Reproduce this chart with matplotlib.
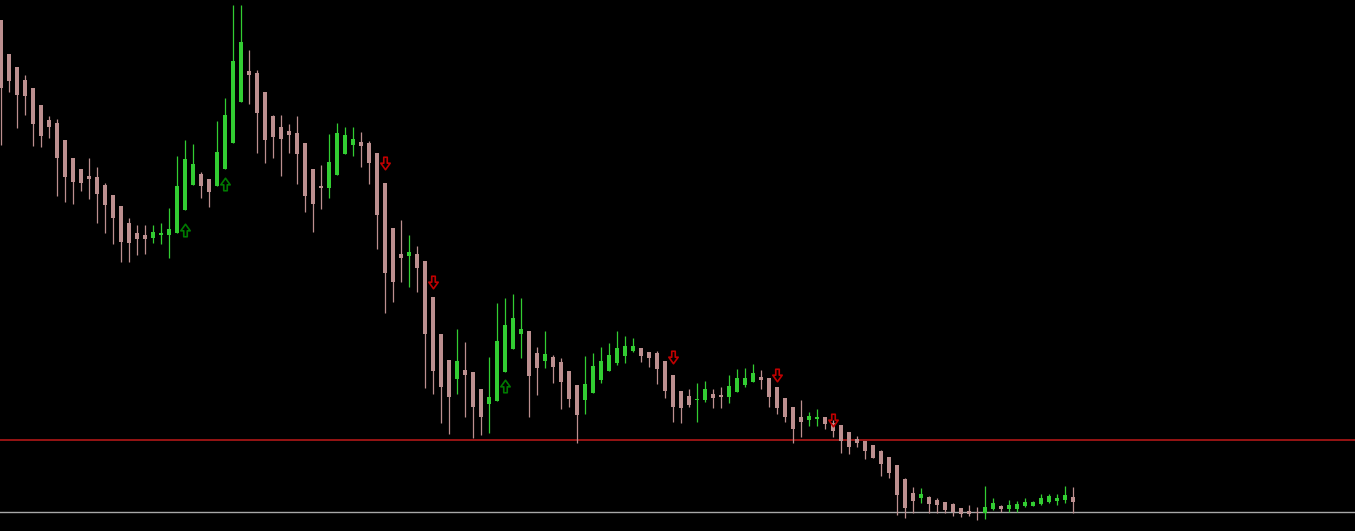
import numpy as np
import matplotlib
matplotlib.use("Agg")
import matplotlib.pyplot as plt
from matplotlib.path import Path

# OHLC das velas (pontos)
opens = [580, 546, 533, 520, 512, 495, 480, 477, 460, 442, 431, 424, 423, 415, 405, 394, 377, 367, 365, 362,
         365, 365, 367, 390, 415, 426, 421, 414, 431, 457, 498, 529, 527, 508, 484, 473, 469, 467, 457, 431,
         414, 412, 425, 446, 455, 458, 457, 447, 417, 372, 346, 344, 346, 339, 303, 266, 240, 221, 230, 228,
         211, 196, 199, 228, 251, 266, 269, 247, 239, 243, 238, 229, 215, 200, 207, 220, 229, 237, 244, 249,
         252, 248, 247, 239, 225, 209, 204, 200, 200, 206, 205, 203, 208, 215, 218, 223, 222, 213, 202, 193,
         183, 180, 181, 183, 177, 175, 168, 161, 159, 155, 149, 143, 135, 121, 107, 102, 103, 100, 98, 96,
         92, 89, 88, 87, 91, 94, 91, 91, 94, 94, 96, 98, 99, 100, 103]
highs = [580, 546, 533, 525, 512, 495, 484, 481, 460, 442, 431, 442, 433, 417, 405, 394, 382, 375, 375, 375,
         377, 392, 444, 460, 456, 428, 421, 479, 502, 595, 595, 550, 530, 508, 485, 485, 476, 484, 457, 431,
         435, 466, 477, 473, 473, 468, 459, 447, 417, 372, 380, 365, 354, 339, 303, 266, 240, 271, 258, 228,
         211, 243, 297, 302, 306, 302, 269, 253, 269, 245, 242, 229, 215, 244, 247, 253, 257, 269, 264, 262,
         252, 248, 249, 239, 225, 209, 211, 217, 219, 211, 213, 225, 231, 232, 236, 230, 222, 213, 202, 193,
         200, 188, 191, 183, 180, 175, 168, 164, 159, 155, 150, 143, 135, 122, 113, 112, 104, 102, 98, 97,
         92, 95, 93, 114, 102, 95, 100, 99, 102, 99, 106, 106, 106, 114, 113]
lows = [455, 508, 472, 485, 454, 453, 462, 404, 398, 396, 409, 401, 377, 367, 356, 338, 338, 345, 346, 357,
        356, 342, 367, 390, 415, 402, 393, 414, 431, 457, 498, 496, 447, 437, 442, 424, 447, 416, 388, 368,
        391, 402, 425, 446, 444, 433, 416, 351, 287, 298, 318, 313, 308, 212, 206, 177, 166, 206, 183, 162,
        165, 167, 199, 228, 251, 242, 183, 205, 232, 217, 191, 193, 157, 186, 207, 217, 229, 235, 237, 248,
        238, 233, 216, 202, 178, 177, 193, 178, 198, 192, 192, 197, 208, 213, 218, 211, 193, 186, 178, 157,
        163, 174, 174, 171, 163, 147, 146, 153, 141, 142, 124, 122, 85, 82, 87, 97, 87, 87, 87, 84,
        83, 84, 80, 81, 90, 88, 88, 88, 93, 94, 95, 97, 95, 97, 87]
closes = [512, 519, 505, 504, 476, 464, 473, 442, 423, 418, 417, 421, 406, 395, 382, 358, 357, 361, 361, 368,
          367, 371, 414, 441, 436, 414, 408, 448, 485, 539, 558, 525, 487, 460, 463, 461, 465, 446, 404, 396,
          412, 438, 467, 465, 461, 454, 437, 385, 327, 318, 342, 348, 332, 266, 229, 213, 203, 239, 225, 193,
          183, 203, 259, 275, 282, 271, 224, 232, 246, 233, 218, 201, 185, 216, 234, 239, 245, 252, 254, 254,
          244, 242, 231, 209, 193, 192, 195, 201, 211, 202, 203, 214, 222, 222, 227, 220, 203, 192, 183, 171,
          178, 184, 183, 176, 169, 159, 153, 157, 149, 142, 136, 127, 105, 92, 99, 106, 96, 95, 90, 88,
          86, 86, 87, 93, 97, 91, 95, 96, 98, 98, 102, 104, 102, 105, 98]

# sinais (indice da vela, nivel)
buy_idx = [23, 28, 63]
buy_lvl = [370, 416, 214]
sell_idx = [48, 54, 84, 97, 104]
sell_lvl = [437, 318, 243, 225, 180]

# niveis horizontais
red_level = 160
gray_level = 88

bull_col = "#32CD32"
bear_col = "#BC8F8F"

o = np.array(opens, dtype=float)
h = np.array(highs, dtype=float)
l = np.array(lows, dtype=float)
c = np.array(closes, dtype=float)
x = np.arange(len(o))
bull = c >= o
cols = np.where(bull, bull_col, bear_col)

fig = plt.figure(figsize=(13.55, 5.31), dpi=100)
fig.patch.set_facecolor("black")
ax = fig.add_axes([0, 0, 1, 1])
ax.set_facecolor("black")

ax.axhline(red_level, color="#B01818", lw=1.2, zorder=1)
ax.axhline(gray_level, color="#A8A8A8", lw=1.0, zorder=1)

# pavios
ax.vlines(x, l, h, colors=cols, lw=0.9, zorder=2)
# corpos
body_bot = np.minimum(o, c)
body_h = np.maximum(np.abs(c - o), 1.0)
ax.bar(x, body_h, bottom=body_bot, width=0.4, color=cols, linewidth=0, zorder=3)

# setas
down = Path([(-0.28, 1), (0.28, 1), (0.28, 0.05), (0.75, 0.05), (0, -1), (-0.75, 0.05),
             (-0.28, 0.05), (-0.28, 1)],
            [Path.MOVETO] + [Path.LINETO] * 6 + [Path.CLOSEPOLY])
up = Path([(px, -py) for px, py in down.vertices], down.codes)
ax.plot(buy_idx, buy_lvl, ls="none", marker=up, ms=9, mfc="none", mec="#007A00", mew=1.2, zorder=4)
ax.plot(sell_idx, sell_lvl, ls="none", marker=down, ms=9, mfc="none", mec="#C00000", mew=1.2, zorder=4)

ax.set_xlim(-0.125, 169.25)
ax.set_ylim(69, 600)
ax.axis("off")

fig.savefig("out.png", dpi=100, facecolor="black")
